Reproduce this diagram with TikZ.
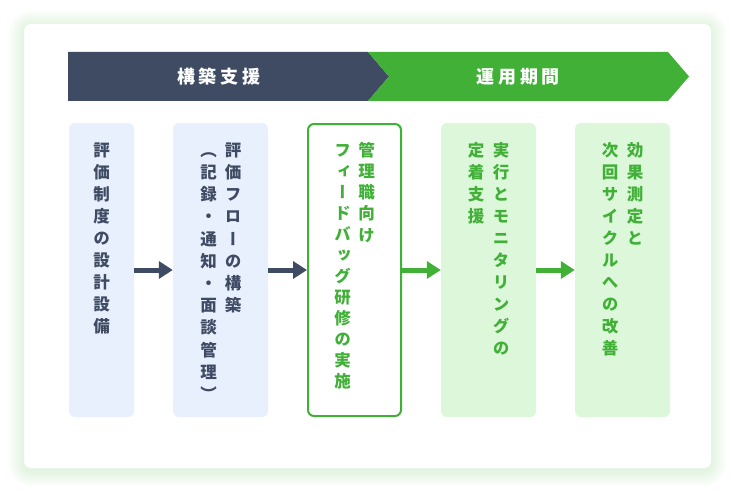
\documentclass[tikz,border=0pt]{standalone}
\usepackage{fontspec}
\newfontfamily\jpv[RawFeature=+vert]{Noto Sans CJK JP}
\newfontfamily\jph{Noto Sans CJK JP}
\usetikzlibrary{arrows.meta}
\definecolor{navy}{RGB}{63,75,99}
\definecolor{leaf}{RGB}{64,176,54}
\definecolor{paleblue}{RGB}{232,240,254}
\definecolor{palegreen}{RGB}{220,247,218}
\definecolor{glow}{RGB}{110,195,100}
\tikzset{
  card/.style={fill=white, rounded corners=7pt, inner sep=0pt},
  bluebox/.style={fill=paleblue, rounded corners=6pt, inner sep=0pt, minimum height=294pt},
  greenbox/.style={fill=palegreen, rounded corners=6pt, inner sep=0pt, minimum height=294pt},
  outlinebox/.style={fill=white, draw=leaf, line width=2pt, rounded corners=6pt, inner sep=0pt, minimum height=292pt},
  vchar/.style={font=\jpv\bfseries\fontsize{16.5}{16.5}\selectfont, inner sep=0pt, text height=14.5pt, text depth=2pt},
  navychar/.style={vchar, text=navy},
  leafchar/.style={vchar, text=leaf},
  bantext/.style={font=\jph\bfseries\fontsize{18}{18}\selectfont, text=white, inner sep=0pt},
  navyarrow/.style={draw=navy, line width=5pt, -{Triangle[length=14pt,width=17pt]}},
  leafarrow/.style={draw=leaf, line width=5pt, -{Triangle[length=14pt,width=17pt]}},
}
\newcommand\vcol[5]{%
  \foreach \ch [count=\i from 0] in {#5} {%
    \node[#2] (#1-\i) at (#3,{150+\i*#4}) {\ch};}}
\begin{document}
\begin{tikzpicture}[x=1pt,y=-1pt]
\useasboundingbox (0,0) rectangle (735,492);
% glow around the card
\foreach \k in {1,...,16} {
  \pgfmathsetmacro\rr{7+\k}
  \fill[glow, opacity=0.011, rounded corners=\rr pt] (24-\k,26-\k) rectangle (711+\k,471+\k);
}
\node[card, minimum width=687pt, minimum height=444pt] (card) at (367.5,246) {};
% banner
\fill[navy] (68,52) -- (368,52) -- (389,76.5) -- (368,101) -- (68,101) -- cycle;
\fill[leaf] (368,52) -- (668,52) -- (689,76.5) -- (668,101) -- (368,101) -- (389,76.5) -- cycle;
\node[bantext] (phase1) at (219,77) {構\hspace{4pt}築\hspace{4pt}支\hspace{4pt}援};
\node[bantext] (phase2) at (518,77) {運\hspace{4pt}用\hspace{4pt}期\hspace{4pt}間};
% boxes
\node[bluebox, minimum width=65pt] (b1) at (101.5,270) {};
\node[bluebox, minimum width=95pt] (b2) at (220.5,270) {};
\node[outlinebox, minimum width=93pt] (b3) at (354.5,270) {};
\node[greenbox, minimum width=95pt] (b4) at (488.5,270) {};
\node[greenbox, minimum width=95pt] (b5) at (622.5,270) {};
% arrows
\draw[navyarrow] (b1.east) -- (b2.west);
\draw[navyarrow] (b2.east) -- (b3.west);
\draw[leafarrow] (b3.east) -- (b4.west);
\draw[leafarrow] (b4.east) -- (b5.west);
% vertical texts
\vcol{t1}{navychar}{101.5}{22}{評,価,制,度,の,設,計,設,備}
\vcol{t2r}{navychar}{233}{22.2}{評,価,フ,ロ,ー,の,構,築}
\vcol{t2l}{navychar}{208.5}{22.2}{（,記,録,・,通,知,・,面,談,管,理,）}
\vcol{t3r}{leafchar}{366.5}{21.2}{管,理,職,向,け}
\vcol{t3l}{leafchar}{342.5}{21}{フ,ィ,ー,ド,バ,ッ,グ,研,修,の,実,施}
\vcol{t4r}{leafchar}{501}{22}{実,行,と,モ,ニ,タ,リ,ン,グ,の}
\vcol{t4l}{leafchar}{476}{22}{定,着,支,援}
\vcol{t5r}{leafchar}{635}{22}{効,果,測,定,と}
\vcol{t5l}{leafchar}{610}{22}{次,回,サ,イ,ク,ル,へ,の,改,善}
\end{tikzpicture}
\end{document}
